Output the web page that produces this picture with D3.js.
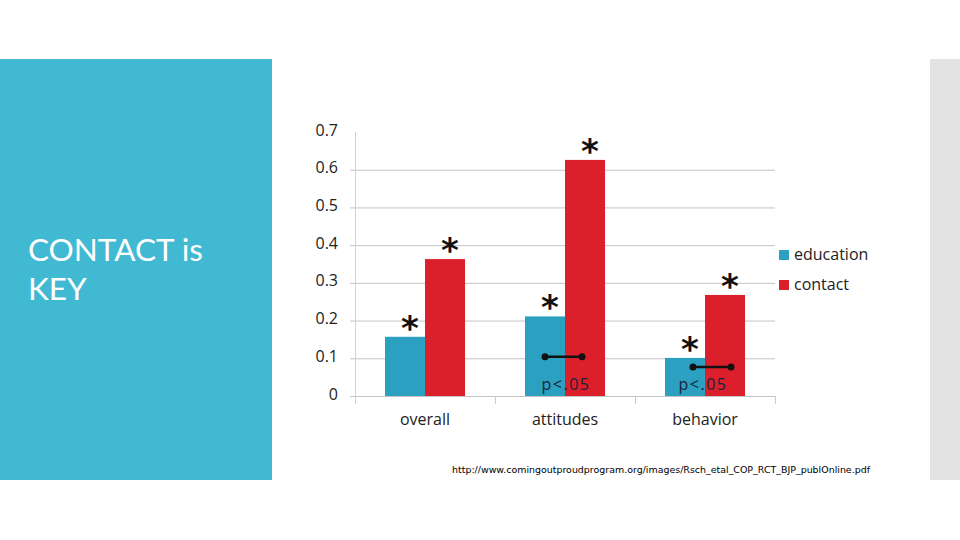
<!DOCTYPE html>
<html><head><meta charset="utf-8">
<script src="https://cdn.jsdelivr.net/npm/d3@7"></script>
<style>
html,body{margin:0;padding:0;background:#fff;}
svg{display:block;}
</style></head>
<body>
<svg id="c" width="960" height="540"></svg>
<script>
const categories = ["overall", "attitudes", "behavior"];
const seriesNames = ["education", "contact"];
const education = [0.157, 0.211, 0.101];
const contact = [0.363, 0.626, 0.268];
const yTicks = [0, 0.1, 0.2, 0.3, 0.4, 0.5, 0.6, 0.7];
const yTickLabels = ["0", "0.1", "0.2", "0.3", "0.4", "0.5", "0.6", "0.7"];
const significant = [[true, true], [true, true], [true, true]];
const pBracketY = [null, 0.104, 0.077];
const pLabel = "p<.05";
const title = ["CONTACT is", "KEY"];
const source = "http://www.comingoutproudprogram.org/images/Rsch_etal_COP_RCT_BJP_publOnline.pdf";

const colors = {education: "#2ba0c0", contact: "#db1f2b"};
const svg = d3.select("#c");
const font = "'Open Sans', sans-serif";

// slide decoration
svg.append("rect").attr("x", 0).attr("y", 59).attr("width", 272).attr("height", 421).attr("fill", "#41b9d3");
svg.append("rect").attr("x", 930).attr("y", 59).attr("width", 30).attr("height", 421).attr("fill", "#e3e3e3");
svg.append("text").attr("x", 28).attr("y", 261).attr("font-family", "Lato, sans-serif").attr("font-weight", 400)
  .attr("font-size", 31.5).attr("fill", "#fff").selectAll("tspan").data(title).join("tspan")
  .attr("x", 28).attr("dy", (d, i) => i === 0 ? 0 : 39).text(d => d);

const y = d3.scaleLinear().domain([0, 0.7]).range([396, 132]);
const x0 = d3.scaleBand().domain(categories).range([355, 775]).padding(0);
const x1 = d3.scaleBand().domain(seriesNames).range([0, 80]).padding(0);
const groupOff = (x0.bandwidth() - 80) / 2;

// gridlines
svg.append("g").selectAll("line").data(yTicks.filter(t => t < 0.7)).join("line")
  .attr("x1", 350).attr("x2", 775).attr("y1", d => y(d) + 0.5).attr("y2", d => y(d) + 0.5)
  .attr("stroke", "#c4c4c4").attr("stroke-width", 1);
// y axis line
svg.append("line").attr("x1", 355.5).attr("x2", 355.5).attr("y1", y(0.7)).attr("y2", 404)
  .attr("stroke", "#d0d0d0");
// x ticks at band boundaries
const bounds = categories.map(c => x0(c)).concat([x0(categories[2]) + x0.bandwidth()]);
svg.append("g").selectAll("line").data(bounds.slice(1)).join("line")
  .attr("x1", d => d + 0.5).attr("x2", d => d + 0.5).attr("y1", 396).attr("y2", 404).attr("stroke", "#c8c8c8");

// y tick labels
svg.append("g").selectAll("text").data(yTicks).join("text")
  .attr("x", 338).attr("y", d => y(d) - 2).attr("dy", "0.35em").attr("text-anchor", "end")
  .attr("font-family", font).attr("font-size", 16).attr("fill", "#222")
  .text((d, i) => yTickLabels[i]);

// x labels
svg.append("g").selectAll("text").data(categories).join("text")
  .attr("x", d => x0(d) + x0.bandwidth() / 2).attr("y", 419).attr("dy", "0.35em").attr("text-anchor", "middle")
  .attr("font-family", font).attr("font-size", 16).attr("fill", "#222").text(d => d);

// bars
const rows = categories.map((c, i) => ({c, i, vals: [
  {s: "education", v: education[i], sig: significant[i][0]},
  {s: "contact", v: contact[i], sig: significant[i][1]}]}));
const g = svg.append("g").selectAll("g").data(rows).join("g")
  .attr("transform", d => `translate(${x0(d.c) + groupOff},0)`);
g.selectAll("rect").data(d => d.vals).join("rect")
  .attr("x", d => x1(d.s)).attr("width", x1.bandwidth())
  .attr("y", d => y(d.v)).attr("height", d => y(0) - y(d.v)).attr("fill", d => colors[d.s]);
g.selectAll("text.ast").data(d => d.vals.filter(v => v.sig)).join("text").attr("class", "ast")
  .attr("x", d => x1(d.s) + x1.bandwidth() / 2 + 5).attr("y", d => y(d.v) + 3)
  .attr("text-anchor", "middle").attr("font-family", "'DejaVu Sans', sans-serif").attr("font-weight", "bold")
  .attr("font-size", 34).attr("fill", "#111").text("*");

// p<.05 brackets
const shifts = {attitudes: [0, -3], behavior: [8, 6]};
const bg = g.filter(d => pBracketY[d.i] !== null);
bg.each(function(d) {
  const sel = d3.select(this);
  const sh = shifts[d.c] || [0, 0];
  const xa = x1("education") + x1.bandwidth() / 2 + sh[0];
  const xb = x1("contact") + x1.bandwidth() / 2 + sh[1];
  const yy = y(pBracketY[d.i]);
  sel.append("line").attr("x1", xa).attr("x2", xb).attr("y1", yy).attr("y2", yy)
    .attr("stroke", "#111").attr("stroke-width", 2.5);
  sel.selectAll("circle").data([xa, xb]).join("circle").attr("cx", v => v).attr("cy", yy).attr("r", 3.5).attr("fill", "#111");
  sel.append("text").attr("x", x1("contact") + (d.c === "behavior" ? -2 : 1)).attr("y", 384).attr("dy", "0.35em")
    .attr("text-anchor", "middle").attr("font-family", font).attr("font-size", 16).attr("fill", "#1b2238")
    .attr("letter-spacing", 1.5).text(pLabel);
});

// legend
const lg = svg.append("g").selectAll("g").data(seriesNames).join("g")
  .attr("transform", (d, i) => `translate(779,${250 + i * 30})`);
lg.append("rect").attr("width", 10).attr("height", 10).attr("fill", d => colors[d]);
lg.append("text").attr("x", 15).attr("y", 4).attr("dy", "0.35em").attr("font-family", font).attr("font-size", 16)
  .attr("fill", "#222").text(d => d);

// source
svg.append("text").attr("x", 452).attr("y", 473).attr("font-family", "'DejaVu Sans', sans-serif").attr("font-size", 9.5)
  .attr("fill", "#000").attr("textLength", 418).attr("lengthAdjust", "spacingAndGlyphs").text(source);
</script>
</body></html>
